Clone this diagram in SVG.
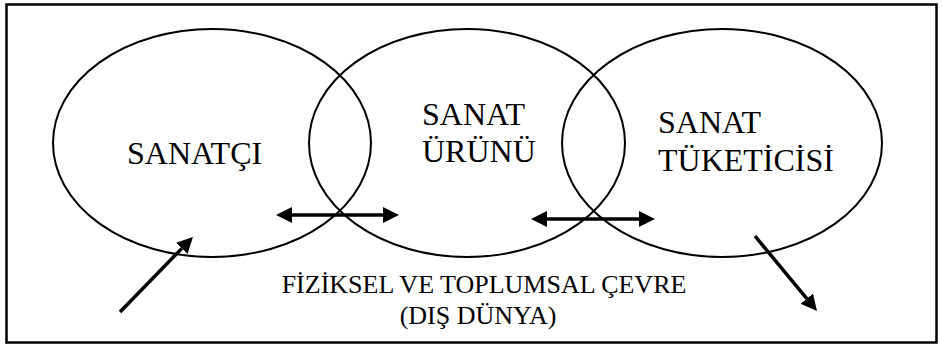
<svg xmlns="http://www.w3.org/2000/svg" width="942" height="346" viewBox="0 0 942 346">
<style>
.frame{fill:#fff;stroke:#000;stroke-width:2.5}
.ell{fill:none;stroke:#000;stroke-width:2}
.lbl{font-family:'Liberation Serif',serif;font-size:32px;fill:#000}
.env{font-family:'Liberation Serif',serif;font-size:26px;fill:#000;text-anchor:middle}
.arr{stroke:#000;stroke-width:3.5;fill:none}
</style>
<defs>
<marker id="head" markerUnits="userSpaceOnUse" markerWidth="17" markerHeight="17" refX="0" refY="8" orient="auto-start-reverse">
<path d="M0,0 L16,8 L0,16 z" fill="#000"/>
</marker>
</defs>
<rect class="frame" x="6.5" y="4.5" width="930" height="338"/>
<g id="sanatci">
<ellipse class="ell" cx="212" cy="143" rx="159" ry="114"/>
<text class="lbl" x="127" y="164">SANATÇI</text>
</g>
<g id="sanat-urunu">
<ellipse class="ell" cx="467" cy="143" rx="158" ry="114"/>
<text class="lbl" x="422" y="125">SANAT</text>
<text class="lbl" x="422" y="162">ÜRÜNÜ</text>
</g>
<g id="sanat-tuketicisi">
<ellipse class="ell" cx="722" cy="143" rx="160" ry="114"/>
<text class="lbl" x="658" y="133">SANAT</text>
<text class="lbl" x="658" y="171">TÜKETİCİSİ</text>
</g>
<g id="cevre">
<text class="env" x="484" y="293">FİZİKSEL VE TOPLUMSAL ÇEVRE</text>
<text class="env" x="478" y="324">(DIŞ DÜNYA)</text>
</g>
<g id="connectors">
<line class="arr" x1="292" y1="215" x2="383" y2="215" marker-start="url(#head)" marker-end="url(#head)"/>
<line class="arr" x1="547" y1="219" x2="639" y2="219" marker-start="url(#head)" marker-end="url(#head)"/>
<line class="arr" x1="120" y1="312" x2="181.8" y2="248.4" marker-end="url(#head)"/>
<line class="arr" x1="755" y1="236" x2="806.8" y2="298.7" marker-end="url(#head)"/>
</g>
</svg>
